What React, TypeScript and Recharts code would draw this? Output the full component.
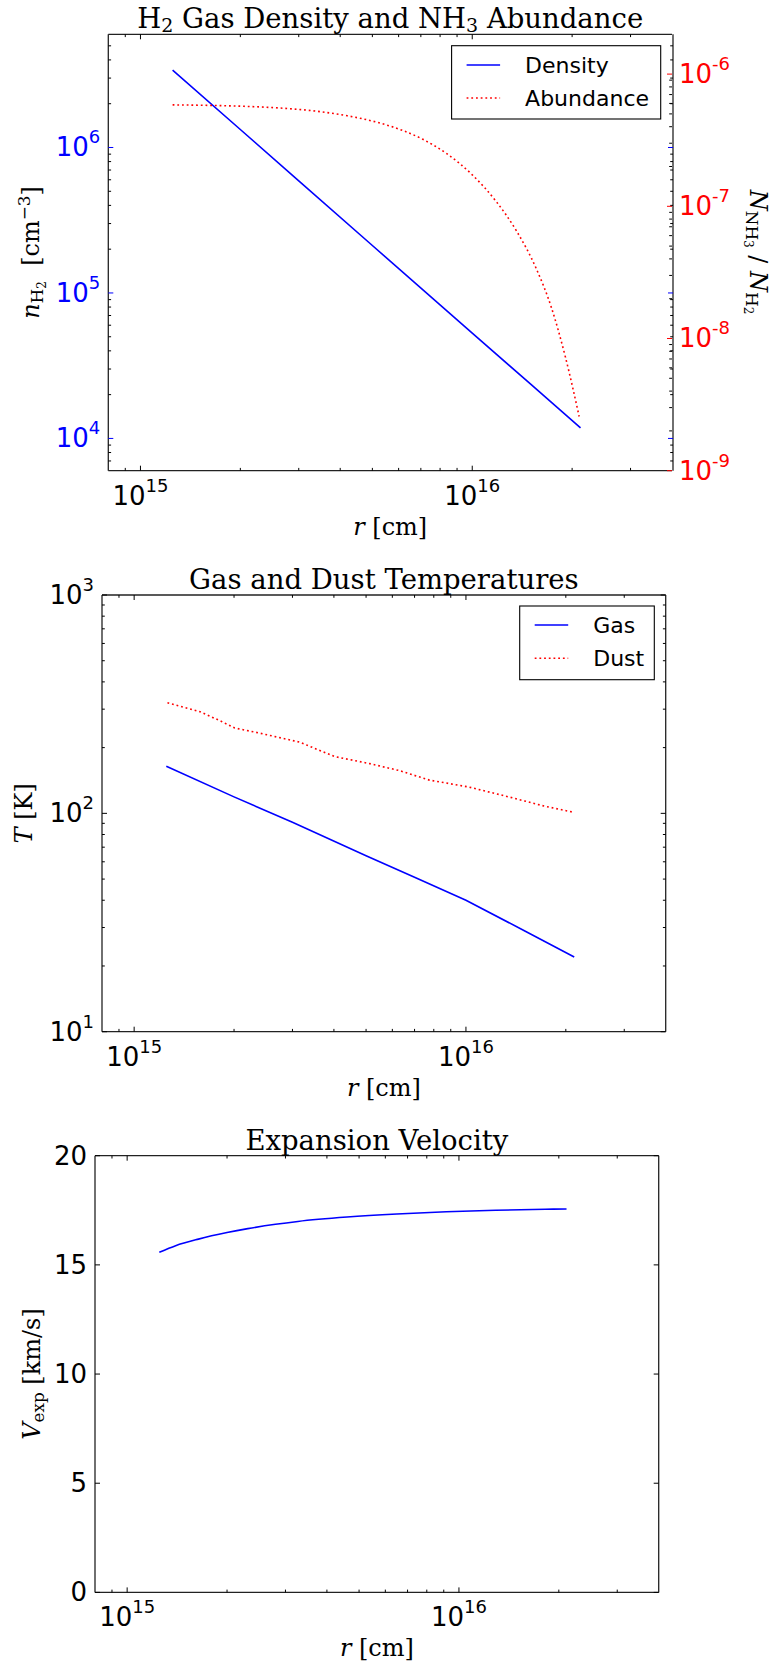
import React from 'react';
import { LineChart, Line, XAxis, YAxis } from 'recharts';

// ---------- shared x axis (radius, cm) ----------
const X_DOMAIN: [number, number] = [8e14, 4e16];
const X_MAJOR = [1e15, 1e16];
const X_MINOR = [9e14, 2e15, 3e15, 4e15, 5e15, 6e15, 7e15, 8e15, 9e15, 2e16, 3e16];

// ---------- panel 1: density + abundance ----------
const N_DOMAIN: [number, number] = [6e3, 6e6];
const N_MAJOR = [1e4, 1e5, 1e6];
const N_MINOR = [7e3, 8e3, 9e3, 2e4, 3e4, 4e4, 5e4, 6e4, 7e4, 8e4, 9e4, 2e5, 3e5, 4e5, 5e5, 6e5, 7e5, 8e5, 9e5, 2e6, 3e6, 4e6, 5e6];
const AB_DOMAIN: [number, number] = [1e-9, 2e-6];
const AB_MAJOR = [1e-9, 1e-8, 1e-7, 1e-6];
const AB_MINOR = [2e-9, 3e-9, 4e-9, 5e-9, 6e-9, 7e-9, 8e-9, 9e-9, 2e-8, 3e-8, 4e-8, 5e-8, 6e-8, 7e-8, 8e-8, 9e-8, 2e-7, 3e-7, 4e-7, 5e-7, 6e-7, 7e-7, 8e-7, 9e-7];

const rDensity = [1.25e15, 2e15, 3e15, 5e15, 1e16, 1.5e16, 2.12e16];
const nDensity = [3.4e6, 1.33e6, 5.9e5, 2.12e5, 5.3e4, 2.36e4, 1.18e4];

const rAbund = [1.25e15, 1.6e15, 2.0e15, 2.6e15, 3.3e15, 4.2e15, 5.2e15, 6.2e15, 7.1e15, 8.4e15, 1.0e16, 1.18e16, 1.36e16, 1.56e16, 1.73e16, 1.91e16, 2.1e16];
const xAbund = [5.85e-7, 5.8e-7, 5.72e-7, 5.55e-7, 5.28e-7, 4.84e-7, 4.3e-7, 3.73e-7, 3.21e-7, 2.49e-7, 1.73e-7, 1.09e-7, 6.5e-8, 3.37e-8, 1.73e-8, 7.2e-9, 2.57e-9];

// ---------- panel 2: temperatures ----------
const T_DOMAIN: [number, number] = [10, 1000];
const T_MAJOR = [10, 100, 1000];
const T_MINOR = [20, 30, 40, 50, 60, 70, 80, 90, 200, 300, 400, 500, 600, 700, 800, 900];

const rGas = [1.25e15, 2e15, 3e15, 5e15, 7e15, 1e16, 1.5e16, 2.12e16];
const tGas = [164.5, 119, 91, 64, 51, 40, 29, 22];

const rDust = [1.26e15, 1.58e15, 1.81e15, 2.01e15, 2.39e15, 3.15e15, 4.02e15, 5.12e15, 6.3e15, 7.76e15, 1.02e16, 1.26e16, 1.5e16, 1.72e16, 2.12e16];
const tDust = [321, 292, 266, 246, 233, 212, 182, 169, 157, 142, 132, 122, 114, 108, 101];

// ---------- panel 3: expansion velocity ----------
const V_DOMAIN: [number, number] = [0, 20];
const V_MAJOR = [0, 5, 10, 15, 20];

const rVel = [1.25e15, 1.4e15, 1.64e15, 2.0e15, 2.31e15, 2.8e15, 3.27e15, 4.6e15, 6.5e15, 9.16e15, 1.29e16, 1.82e16, 2.11e16];
const vVel = [15.58, 15.88, 16.18, 16.48, 16.66, 16.86, 16.99, 17.19, 17.33, 17.43, 17.5, 17.55, 17.56];

const toData = (rs: number[], vs: number[]) => rs.map((r, i) => ({ r, v: vs[i] }));
const densityData = toData(rDensity, nDensity);
const abundData = toData(rAbund, xAbund);
const gasData = toData(rGas, tGas);
const dustData = toData(rDust, tDust);
const velData = toData(rVel, vVel);

const SANS = '"DejaVu Sans", sans-serif';
const SERIF = '"DejaVu Serif", serif';
const BLUE = '#0000ff';
const RED = '#ff0000';
const MAJ = 5;
const MIN = 2.8;
const AXIS_LINE = { stroke: '#222', strokeWidth: 1.3 };

type Side = 'bottom' | 'top' | 'left' | 'right';

function expLabel(v: number) {
  const e = Math.round(Math.log10(v));
  return e < 0 ? '-' + Math.abs(e) : String(e);
}

function makeTick(side: Side, majors: number[], opts: { labels?: 'log' | 'lin'; majorColor?: string; labelColor?: string } = {}) {
  return (props: any) => {
    const { x, y, payload } = props;
    const v = payload?.value as number;
    const isMajor = majors.some((m) => Math.abs(m - v) <= Math.abs(m) * 1e-9 + 1e-12);
    const len = isMajor ? MAJ : MIN;
    const col = isMajor && opts.majorColor ? opts.majorColor : '#000';
    let x2 = x;
    let y2 = y;
    if (side === 'bottom') y2 = y - len;
    if (side === 'top') y2 = y + len;
    if (side === 'left') x2 = x + len;
    if (side === 'right') x2 = x - len;
    let label: React.ReactNode = null;
    if (isMajor && opts.labels) {
      const fill = opts.labelColor || '#000';
      const content =
        opts.labels === 'log' ? (
          <>
            10
            <tspan fontSize={18} dy={-13}>
              {expLabel(v)}
            </tspan>
          </>
        ) : (
          String(v)
        );
      const common = { fontFamily: SANS, fontSize: 26, fill };
      if (side === 'bottom')
        label = (
          <text x={x} y={y + 34} textAnchor="middle" {...common}>
            {content}
          </text>
        );
      if (side === 'left')
        label = (
          <text x={x - 8} y={y + 9} textAnchor="end" {...common}>
            {content}
          </text>
        );
      if (side === 'right')
        label = (
          <text x={x + 7} y={y + 9} textAnchor="start" {...common}>
            {content}
          </text>
        );
    }
    return (
      <g>
        <line x1={x} y1={y} x2={x2} y2={y2} stroke={col} strokeWidth={1} />
        {label}
      </g>
    );
  };
}

const X_TICKS = [...X_MAJOR, ...X_MINOR];

const axisCommon = {
  type: 'number' as const,
  allowDataOverflow: true,
  interval: 0 as const,
  tickLine: false,
  tickSize: 0,
  tickMargin: 0,
};

function Panel1() {
  return (
    <LineChart width={777} height={560} margin={{ top: 33.3, right: 103, bottom: 88.3, left: 107.3 }}>
      <XAxis xAxisId="b" dataKey="r" scale="log" domain={X_DOMAIN} ticks={X_TICKS} tick={makeTick('bottom', X_MAJOR, { labels: 'log' })} height={1} axisLine={AXIS_LINE} {...axisCommon} />
      <XAxis xAxisId="t" orientation="top" dataKey="r" scale="log" domain={X_DOMAIN} ticks={X_TICKS} tick={makeTick('top', X_MAJOR)} height={1} axisLine={AXIS_LINE} {...axisCommon} />
      <YAxis yAxisId="n" dataKey="v" scale="log" domain={N_DOMAIN} ticks={[...N_MAJOR, ...N_MINOR]} tick={makeTick('left', N_MAJOR, { labels: 'log', majorColor: BLUE, labelColor: BLUE })} width={1} axisLine={AXIS_LINE} {...axisCommon} />
      <YAxis yAxisId="nR" orientation="right" dataKey="v" scale="log" domain={N_DOMAIN} ticks={[...N_MAJOR, ...N_MINOR]} tick={makeTick('right', N_MAJOR, { majorColor: BLUE })} width={1} axisLine={AXIS_LINE} {...axisCommon} />
      <YAxis yAxisId="ab" orientation="right" dataKey="v" scale="log" domain={AB_DOMAIN} ticks={[...AB_MAJOR, ...AB_MINOR]} tick={makeTick('right', AB_MAJOR, { labels: 'log', majorColor: RED, labelColor: RED })} width={1} axisLine={false} {...axisCommon} />
      <Line xAxisId="b" yAxisId="n" data={densityData} dataKey="v" type="linear" stroke={BLUE} strokeWidth={1.6} dot={false} isAnimationActive={false} />
      <Line xAxisId="b" yAxisId="ab" data={abundData} dataKey="v" type="monotone" stroke={RED} strokeWidth={1.6} strokeDasharray="1.8 2.9" dot={false} isAnimationActive={false} />
    </LineChart>
  );
}

function Panel2() {
  return (
    <LineChart width={777} height={560} margin={{ top: 34, right: 110.3, bottom: 87.3, left: 101 }}>
      <XAxis xAxisId="b" dataKey="r" scale="log" domain={X_DOMAIN} ticks={X_TICKS} tick={makeTick('bottom', X_MAJOR, { labels: 'log' })} height={1} axisLine={AXIS_LINE} {...axisCommon} />
      <XAxis xAxisId="t" orientation="top" dataKey="r" scale="log" domain={X_DOMAIN} ticks={X_TICKS} tick={makeTick('top', X_MAJOR)} height={1} axisLine={AXIS_LINE} {...axisCommon} />
      <YAxis yAxisId="T" dataKey="v" scale="log" domain={T_DOMAIN} ticks={[...T_MAJOR, ...T_MINOR]} tick={makeTick('left', T_MAJOR, { labels: 'log' })} width={1} axisLine={AXIS_LINE} {...axisCommon} />
      <YAxis yAxisId="TR" orientation="right" dataKey="v" scale="log" domain={T_DOMAIN} ticks={[...T_MAJOR, ...T_MINOR]} tick={makeTick('right', T_MAJOR)} width={1} axisLine={AXIS_LINE} {...axisCommon} />
      <Line xAxisId="b" yAxisId="T" data={gasData} dataKey="v" type="linear" stroke={BLUE} strokeWidth={1.6} dot={false} isAnimationActive={false} />
      <Line xAxisId="b" yAxisId="T" data={dustData} dataKey="v" type="linear" stroke={RED} strokeWidth={1.6} strokeDasharray="1.8 2.9" dot={false} isAnimationActive={false} />
    </LineChart>
  );
}

function Panel3() {
  return (
    <LineChart width={777} height={550} margin={{ top: 34.7, right: 117.3, bottom: 76.6, left: 94 }}>
      <XAxis xAxisId="b" dataKey="r" scale="log" domain={X_DOMAIN} ticks={X_TICKS} tick={makeTick('bottom', X_MAJOR, { labels: 'log' })} height={1} axisLine={AXIS_LINE} {...axisCommon} />
      <XAxis xAxisId="t" orientation="top" dataKey="r" scale="log" domain={X_DOMAIN} ticks={X_TICKS} tick={makeTick('top', X_MAJOR)} height={1} axisLine={AXIS_LINE} {...axisCommon} />
      <YAxis yAxisId="V" dataKey="v" scale="linear" domain={V_DOMAIN} ticks={V_MAJOR} tick={makeTick('left', V_MAJOR, { labels: 'lin' })} width={1} axisLine={AXIS_LINE} {...axisCommon} />
      <YAxis yAxisId="VR" orientation="right" dataKey="v" scale="linear" domain={V_DOMAIN} ticks={V_MAJOR} tick={makeTick('right', V_MAJOR)} width={1} axisLine={AXIS_LINE} {...axisCommon} />
      <Line xAxisId="b" yAxisId="V" data={velData} dataKey="v" type="monotone" stroke={BLUE} strokeWidth={1.6} dot={false} isAnimationActive={false} />
    </LineChart>
  );
}

function LegendBox({ x, y, w, h, items }: { x: number; y: number; w: number; h: number; items: { label: string; color: string; dotted: boolean; cy: number }[] }) {
  return (
    <g>
      <rect x={x} y={y} width={w} height={h} fill="#fff" stroke="#000" strokeWidth={1.1} />
      {items.map((it) => (
        <g key={it.label}>
          <line x1={x + 15} x2={x + 48.5} y1={it.cy} y2={it.cy} stroke={it.color} strokeWidth={1.6} strokeDasharray={it.dotted ? '1.8 2.9' : undefined} />
          <text x={x + 73.5} y={it.cy + 8} fontFamily={SANS} fontSize={22} fill="#000">
            {it.label}
          </text>
        </g>
      ))}
    </g>
  );
}

function Overlay() {
  const pre = { whiteSpace: 'pre' as const };
  return (
    <svg width={777} height={1670} style={{ position: 'absolute', left: 0, top: 0, pointerEvents: 'none' }}>
      {/* titles */}
      <text x={390.2} y={28} textAnchor="middle" fontFamily={SERIF} fontSize={27.5} fill="#000" style={pre}>
        H<tspan fontSize={19} dy={4}>2</tspan>
        <tspan dy={-4}>{' Gas Density and NH'}</tspan>
        <tspan fontSize={19} dy={4}>3</tspan>
        <tspan dy={-4}>{' Abundance'}</tspan>
      </text>
      <text x={383.9} y={589} textAnchor="middle" fontFamily={SERIF} fontSize={27.5} fill="#000">
        Gas and Dust Temperatures
      </text>
      <text x={376.9} y={1150} textAnchor="middle" fontFamily={SERIF} fontSize={27.5} fill="#000">
        Expansion Velocity
      </text>

      {/* x labels */}
      {[
        [390.2, 535],
        [383.9, 1096],
        [376.9, 1656],
      ].map(([cx, cy]) => (
        <text key={cy} x={cx} y={cy} textAnchor="middle" fontFamily={SERIF} fontSize={24} fill="#000" style={pre}>
          <tspan fontStyle="italic">r</tspan>
          <tspan>{' [cm]'}</tspan>
        </text>
      ))}

      {/* y labels */}
      <g transform="translate(39,252.5) rotate(-90)">
        <text textAnchor="middle" fontFamily={SERIF} fontSize={24} fill="#000" style={pre}>
          <tspan fontStyle="italic">n</tspan>
          <tspan fontSize={16.8} dy={4}>H</tspan>
          <tspan fontSize={12} dy={2.5}>2</tspan>
          <tspan dy={-6.5}>{'  [cm'}</tspan>
          <tspan fontSize={16.8} dy={-9}>{'\u22123'}</tspan>
          <tspan dy={9}>]</tspan>
        </text>
      </g>
      <g transform="translate(750,252) rotate(90)">
        <text textAnchor="middle" fontFamily={SERIF} fontSize={24} fill="#000" style={pre}>
          <tspan fontStyle="italic">N</tspan>
          <tspan fontSize={16.8} dy={4}>NH</tspan>
          <tspan fontSize={12} dy={2.5}>3</tspan>
          <tspan dy={-6.5}>{' / '}</tspan>
          <tspan fontStyle="italic">N</tspan>
          <tspan fontSize={16.8} dy={4}>H</tspan>
          <tspan fontSize={12} dy={2.5}>2</tspan>
        </text>
      </g>
      <g transform="translate(32,813.3) rotate(-90)">
        <text textAnchor="middle" fontFamily={SERIF} fontSize={24} fill="#000" style={pre}>
          <tspan fontStyle="italic">T</tspan>
          <tspan>{' [K]'}</tspan>
        </text>
      </g>
      <g transform="translate(39.5,1374) rotate(-90)">
        <text textAnchor="middle" fontFamily={SERIF} fontSize={24} fill="#000" style={pre}>
          <tspan fontStyle="italic">V</tspan>
          <tspan fontSize={16.8} dy={4}>exp</tspan>
          <tspan dy={-4}>{' [km/s]'}</tspan>
        </text>
      </g>

      {/* legends */}
      <LegendBox
        x={451.6}
        y={45.7}
        w={209.1}
        h={73.3}
        items={[
          { label: 'Density', color: BLUE, dotted: false, cy: 65 },
          { label: 'Abundance', color: RED, dotted: true, cy: 98 },
        ]}
      />
      <LegendBox
        x={519.7}
        y={606}
        w={134.6}
        h={73.7}
        items={[
          { label: 'Gas', color: BLUE, dotted: false, cy: 625 },
          { label: 'Dust', color: RED, dotted: true, cy: 658.3 },
        ]}
      />
    </svg>
  );
}

export default function App() {
  return (
    <div style={{ position: 'absolute', left: 0, top: 0, width: 777, height: 1670, background: '#fff', overflow: 'hidden' }}>
      <div style={{ position: 'absolute', left: 0, top: 0 }}>
        <Panel1 />
      </div>
      <div style={{ position: 'absolute', left: 0, top: 560 }}>
        <Panel2 />
      </div>
      <div style={{ position: 'absolute', left: 0, top: 1120 }}>
        <Panel3 />
      </div>
      <Overlay />
    </div>
  );
}
